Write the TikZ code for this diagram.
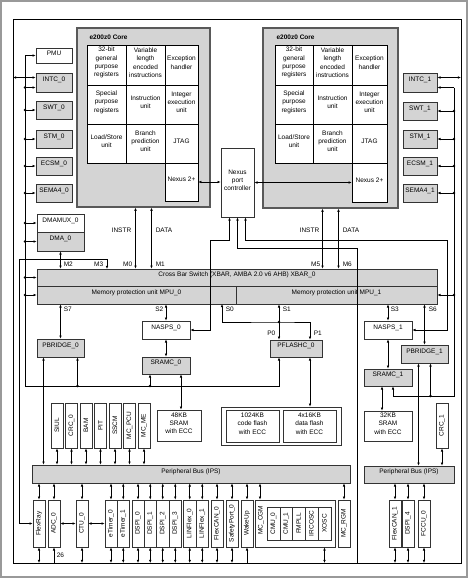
\documentclass[tikz,border=0pt]{standalone}
\usepackage{fontspec}
\setmainfont{Liberation Sans}
\usetikzlibrary{fit,arrows.meta}
\colorlet{fillc}{black!17}
\colorlet{edgec}{black!80}
\tikzstyle{soc} = [
  x=1pt, y=-1pt,
  line width=0.6pt,
  >={Latex[length=3.2pt,width=2.6pt]},
  font=\fontsize{6.5}{8.3}\selectfont,
]
\tikzstyle{wbox} = [draw=edgec, fill=white, inner sep=0pt, align=center]
\tikzstyle{gbox} = [wbox, fill=fillc]
\tikzset{vbox/.style={draw=edgec, fill=white, inner sep=0pt,
  label={[rotate=90, inner sep=0pt]center:#1}}}
\tikzstyle{core} = [draw=black!65, fill=fillc, line width=1.2pt, inner sep=0pt]
\tikzstyle{cell} = [draw=black, fill=white, inner sep=0pt, align=center, line width=0.5pt]
\tikzstyle{lbl} = [inner sep=0.5pt]

\begin{document}
\begin{tikzpicture}[soc]
  \useasboundingbox (0,0) rectangle (476,582);

  % Frame
  \draw[black!40, line width=1.2pt] (1,1) rectangle (467,577);
  \draw (13,19) rectangle (461,563);
  \coordinate (fl) at (13,0);
  \coordinate (fr) at (461,0);
  \coordinate (fb) at (0,563);
  \coordinate (busL) at (25,0);
  \coordinate (busLb) at (25,386);
  \coordinate (busR) at (454,0);
  \coordinate (busRb) at (454,396);

  % Core 0
  \node[core, fit={(77,28) (210,207)}] (core0) {};
  \node[anchor=west, font=\fontsize{6.5}{8}\selectfont\bfseries] (core0t) at (86,37) {e200z0 Core};
  \node[cell, fit={(87,45) (126,85)}] (gpr0) {32-bit\\general\\purpose\\registers};
  \node[cell, fit={(126,45) (165,85)}] (vle0) {Variable\\length\\encoded\\instructions};
  \node[cell, fit={(165,45) (198,85)}] (exc0) {Exception\\handler};
  \node[cell, fit={(87,85) (126,124)}] (spr0) {Special\\purpose\\registers};
  \node[cell, fit={(126,85) (165,124)}] (iu0) {Instruction\\unit};
  \node[cell, fit={(165,85) (198,124)}] (ieu0) {Integer\\execution\\unit};
  \node[cell, fit={(87,124) (126,163)}] (lsu0) {Load/Store\\unit};
  \node[cell, fit={(126,124) (165,163)}] (bpu0) {Branch\\prediction\\unit};
  \node[cell, fit={(165,124) (198,163)}] (jtag0) {JTAG};
  \node[cell, fit={(165,163) (198,201)}] (nx0) {Nexus 2+};

  % Core 1
  \node[core, fit={(263,28) (398,208)}] (core1) {};
  \node[anchor=west, font=\fontsize{6.5}{8}\selectfont\bfseries] (core1t) at (273,37) {e200z0 Core};
  \node[cell, fit={(275,45) (313,85)}] (gpr1) {32-bit\\general\\purpose\\registers};
  \node[cell, fit={(313,45) (352,85)}] (vle1) {Variable\\length\\encoded\\instructions};
  \node[cell, fit={(352,45) (387,85)}] (exc1) {Exception\\handler};
  \node[cell, fit={(275,85) (313,124)}] (spr1) {Special\\purpose\\registers};
  \node[cell, fit={(313,85) (352,124)}] (iu1) {Instruction\\unit};
  \node[cell, fit={(352,85) (387,124)}] (ieu1) {Integer\\execution\\unit};
  \node[cell, fit={(275,124) (313,163)}] (lsu1) {Load/Store\\unit};
  \node[cell, fit={(313,124) (352,163)}] (bpu1) {Branch\\prediction\\unit};
  \node[cell, fit={(352,124) (387,163)}] (jtag1) {JTAG};
  \node[cell, fit={(352,163) (387,202)}] (nx1) {Nexus 2+};

  \node[wbox, fit={(221,148) (254,217)}] (npc) {Nexus\\port\\controller};

  % Side modules
  \node[wbox, fit={(36,48) (72,63)}] (pmu) {PMU};
  \node[gbox, fit={(36,73) (72,92)}] (intc0) {INTC\_0};
  \node[gbox, fit={(36,101) (72,119)}] (swt0) {SWT\_0};
  \node[gbox, fit={(36,130) (72,148)}] (stm0) {STM\_0};
  \node[gbox, fit={(36,157) (72,175)}] (ecsm0) {ECSM\_0};
  \node[gbox, fit={(36,184) (72,202)}] (sema0) {SEMA4\_0};
  \node[wbox, fit={(37,214) (84,232)}] (dmamux0) {DMAMUX\_0};
  \node[gbox, fit={(37,232) (84,251)}] (dma0) {DMA\_0};
  \node[gbox, fit={(403,73) (437,92)}] (intc1) {INTC\_1};
  \node[gbox, fit={(403,102) (437,120)}] (swt1) {SWT\_1};
  \node[gbox, fit={(403,130) (437,148)}] (stm1) {STM\_1};
  \node[gbox, fit={(403,157) (437,175)}] (ecsm1) {ECSM\_1};
  \node[gbox, fit={(403,184) (437,202)}] (sema1) {SEMA4\_1};

  % Cross bar
  \node[gbox, fit={(37,269) (437,286)}] (xbar) {Cross Bar Switch (XBAR, AMBA 2.0 v6 AHB) XBAR\_0};
  \node[gbox, fit={(37,286) (236,304)}] (mpu0) {Memory protection unit MPU\_0};
  \node[gbox, fit={(236,286) (437,304)}] (mpu1) {Memory protection unit MPU\_1};

  % Slaves
  \node[gbox, fit={(37,339) (84,357)}] (pbr0) {PBRIDGE\_0};
  \node[wbox, fit={(142,321) (190,339)}] (nasps0) {NASPS\_0};
  \node[gbox, fit={(142,357) (190,374)}] (sramc0) {SRAMC\_0};
  \node[wbox, fit={(157,410) (201,441)}] (sram0) {48KB\\SRAM\\with ECC};
  \node[gbox, fit={(270,340) (322,357)}] (pfl0) {PFLASHC\_0};
  \node[wbox, fit={(221,407) (341,445)}] (flash) {};
  \node[wbox, fit={(226,410) (279,442)}] (cflash) {1024KB\\code flash\\with ECC};
  \node[wbox, fit={(283,410) (336,442)}] (dflash) {4x16KB\\data flash\\with ECC};
  \node[wbox, fit={(364,321) (412,339)}] (nasps1) {NASPS\_1};
  \node[gbox, fit={(364,369) (412,386)}] (sramc1) {SRAMC\_1};
  \node[gbox, fit={(401,345) (448,363)}] (pbr1) {PBRIDGE\_1};
  \node[wbox, fit={(364,411) (412,441)}] (sram1) {32KB\\SRAM\\with ECC};
  \node[vbox=CRC\_1, fit={(436,403) (448,448)}] (crc1) {};

  % Peripherals above the bus
  \node[vbox=SIUL, fit={(51,403) (63,448)}] (siul) {};
  \node[vbox=CRC\_0, fit={(65.5,403) (77.5,448)}] (crc0) {};
  \node[vbox=BAM, fit={(80,403) (92,448)}] (bam) {};
  \node[vbox=PIT, fit={(94.5,403) (106.5,448)}] (pit) {};
  \node[vbox=SSCM, fit={(109,403) (121,448)}] (sscm) {};
  \node[vbox=MC\_PCU, fit={(123.5,403) (135.5,448)}] (mcpcu) {};
  \node[vbox=MC\_ME, fit={(138,403) (150,448)}] (mcme) {};

  % Peripheral buses
  \node[gbox, fit={(32,465) (350,483)}] (ips0) {Peripheral Bus (IPS)};
  \node[gbox, fit={(364,466) (454,483)}] (ips1) {Peripheral Bus (IPS)};

  % Peripherals below the bus
  \node[vbox=FlexRay, fit={(33,500) (45,547)}] (flexray) {};
  \node[vbox=ADC\_0, fit={(48,500) (60,547)}] (adc0) {};
  \node[vbox=CTU\_0, fit={(76,500) (88,547)}] (ctu0) {};
  \node[vbox=eTimer\_0, fit={(105,500) (117,547)}] (etimer0) {};
  \node[vbox=eTimer\_1, fit={(117,500) (129.5,547)}] (etimer1) {};
  \node[vbox=DSPI\_0, fit={(132,500) (144,547)}] (dspi0) {};
  \node[vbox=DSPI\_1, fit={(144,500) (156.5,547)}] (dspi1) {};
  \node[vbox=DSPI\_2, fit={(156.5,500) (169,547)}] (dspi2) {};
  \node[vbox=DSPI\_3, fit={(169,500) (181.5,547)}] (dspi3) {};
  \node[vbox=LINFlex\_0, fit={(183.5,500) (196,547)}] (linflex0) {};
  \node[vbox=LINFlex\_1, fit={(196,500) (208.5,547)}] (linflex1) {};
  \node[vbox=FlexCAN\_0, fit={(211,500) (223,547)}] (flexcan0) {};
  \node[vbox=SafetyPort\_0, fit={(226,500) (238,547)}] (safety0) {};
  \node[vbox=WakeUp, fit={(241,500) (253,547)}] (wakeup) {};
  \node[wbox, fit={(255,500) (335,547)}] (mccgm) {};
  \node[rotate=90, anchor=east] (mccgmt) at (261,502) {MC\_CGM};
  \node[vbox=CMU\_0, fit={(267,507) (280,540)}] (cmu0) {};
  \node[vbox=CMU\_1, fit={(280,507) (292.5,540)}] (cmu1) {};
  \node[vbox=FMPLL, fit={(292.5,507) (305,540)}] (fmpll) {};
  \node[vbox=IRCOSC, fit={(305,507) (318,540)}] (ircosc) {};
  \node[vbox=XOSC, fit={(318,507) (331,540)}] (xosc) {};
  \node[vbox=MC\_RGM, fit={(338,500) (350,547)}] (mcrgm) {};
  \node[vbox=FlexCAN\_1, fit={(389,500) (401,547)}] (flexcan1) {};
  \node[vbox=DSPI\_4, fit={(402,500) (414,547)}] (dspi4) {};
  \node[vbox=FCCU\_0, fit={(418,500) (430,547)}] (fccu0) {};

  % Left bus
  \draw[->] (pmu.west -| busL) -- (busLb) -| ([xshift=-17pt]pfl0.south);
  \draw[->] (pmu.west -| busL) -- (pmu.west);
  \draw[->] ([yshift=-5pt]intc0.west -| busL) -- ([yshift=-5pt]intc0.west);
  \fill ([yshift=-5pt]intc0.west -| busL) circle (1.3pt);
  \draw[<->] ([yshift=5pt]intc0.west -| fl) -- ([yshift=5pt]intc0.west);
  \foreach \m in {swt0,stm0,ecsm0,sema0,dmamux0,dma0,xbar,mpu0} {
    \draw[->] (\m.west -| busL) -- (\m.west);
    \fill (\m.west -| busL) circle (1.3pt);
  }
  \draw[->] ([xshift=17pt]pbr0.south |- busLb) -- ([xshift=17pt]pbr0.south);
  \fill ([xshift=17pt]pbr0.south |- busLb) circle (1.3pt);
  \draw[->] ([xshift=-16pt]sramc0.south |- busLb) -- ([xshift=-16pt]sramc0.south);
  \fill ([xshift=-16pt]sramc0.south |- busLb) circle (1.3pt);

  % Right bus
  \draw[->] ([yshift=-5pt]intc1.east -| busR) -- (busRb) -| ([xshift=5pt]sramc1.south);
  \draw[->] ([yshift=-5pt]intc1.east -| busR) -- ([yshift=-5pt]intc1.east);
  \draw[<->] ([yshift=5pt]intc1.east -| fr) -- ([yshift=5pt]intc1.east);
  \foreach \m in {swt1,stm1,ecsm1,sema1,mpu1} {
    \draw[->] (\m.east -| busR) -- (\m.east);
    \fill (\m.east -| busR) circle (1.3pt);
  }
  \draw[->] ([xshift=6pt]pbr1.south |- busRb) -- ([xshift=6pt]pbr1.south);
  \fill ([xshift=6pt]pbr1.south |- busRb) circle (1.3pt);

  % Masters
  \draw[<->] ([xshift=-8pt]core0.south) -- ([xshift=-8pt]core0.south |- xbar.north);
  \draw[<->] ([xshift=8pt]core0.south) -- ([xshift=8pt]core0.south |- xbar.north);
  \draw[<->] ([xshift=-8pt]core1.south) -- ([xshift=-8pt]core1.south |- xbar.north);
  \draw[<->] ([xshift=8pt]core1.south) -- ([xshift=8pt]core1.south |- xbar.north);
  \draw[<->] (dma0.south) -- (dma0.south |- xbar.north);
  \draw[<->] (flexray.west) -| (19,259) -| (107,269);

  % Slaves
  \draw[<->] (pbr0.north) -- (pbr0.north |- mpu0.south);
  \draw[<->] ([xshift=-17pt]pbr0.south) -- ([xshift=-17pt]pbr0.south |- ips0.north);
  \draw[<->] (nasps0.north) -- (nasps0.north |- mpu0.south);
  \draw[<->] (nasps0.south) -- (sramc0.north);
  \draw[<->] ([xshift=15pt]sramc0.south) -- ([xshift=15pt]sramc0.south |- sram0.north);
  \coordinate (jS) at (279,322);
  \draw[<->] (222,304) |- (jS) -| ([xshift=14pt]pfl0.north);
  \draw[<->] (jS |- mpu1.south) -- (jS |- pfl0.north);
  \fill (jS) circle (1.3pt);
  \draw[<->] ([xshift=14pt]pfl0.south) -- ([xshift=14pt]pfl0.south |- flash.north);
  \draw[<->] (nasps1.north) -- (nasps1.north |- mpu1.south);
  \draw[<->] (nasps1.south) -- (sramc1.north);
  \draw[<->] ([xshift=-6pt]sramc1.south) -- ([xshift=-6pt]sram1.north);
  \draw[<->] (pbr1.north) -- (pbr1.north |- mpu1.south);
  \draw[<->] ([xshift=-6pt]pbr1.south) -- ([xshift=-6pt]pbr1.south |- ips1.north);
  \draw[<->] (crc1.south) -- (crc1.south |- ips1.north);

  % Nexus
  \draw[<->] (nx0.east) -- (nx0.east -| npc.west);
  \draw[<->] (nx1.west -| npc.east) -- (nx1.west);
  \draw[<->] (nasps0.east) -| (210,240) -| ([xshift=-8pt]npc.south);
  \coordinate (jV) at (357,248);
  \draw[->] (jV |- fb) -- (jV) -| (npc.south);
  \draw[<->] (nasps1.east) -| (447,240) -| ([xshift=8pt]npc.south);

  % Peripheral links
  \foreach \m in {siul,crc0,bam,pit,sscm,mcpcu,mcme}
    \draw[<->] (\m.south) -- (\m.south |- ips0.north);
  \foreach \m in {flexray,adc0,ctu0,etimer0,etimer1,dspi0,dspi1,dspi2,dspi3,linflex0,linflex1,flexcan0,safety0,wakeup,mcrgm}
    \draw[<->] (\m.north) -- (\m.north |- ips0.south);
  \draw[<->] ([xshift=-35pt]mccgm.north) -- ([xshift=-35pt]mccgm.north |- ips0.south);
  \foreach \m in {flexray,ctu0,etimer0,etimer1,dspi0,dspi1,dspi2,dspi3,linflex0,linflex1,flexcan0,safety0}
    \draw[<->] (\m.south) -- (\m.south |- fb);
  \draw[<-] (adc0.south) -- (adc0.south |- fb);
  \draw[<-] (wakeup.south) -- (wakeup.south |- fb);
  \draw[<->] (mccgm.south -| xosc.south) -- (xosc.south |- fb);
  \draw[<->] (adc0.east) -- (ctu0.west);
  \draw[<->] (ctu0.east) -- (etimer0.west);
  \foreach \m in {flexcan1,dspi4,fccu0} {
    \draw[<->] (\m.north) -- (\m.north |- ips1.south);
    \draw[<->] (\m.south) -- (\m.south |- fb);
  }

  % Labels
  \node[lbl, anchor=east] (li0) at (132,230) {INSTR};
  \node[lbl, anchor=west] (ld0) at (155,230) {DATA};
  \node[lbl, anchor=east] (li1) at (320,230) {INSTR};
  \node[lbl, anchor=west] (ld1) at (342,230) {DATA};
  \node[lbl, anchor=east] (lm0) at (133,264) {M0};
  \node[lbl, anchor=west] (lm1) at (155,264) {M1};
  \node[lbl, anchor=west] (lm2) at (63,264) {M2};
  \node[lbl, anchor=east] (lm3) at (104,264) {M3};
  \node[lbl, anchor=east] (lm5) at (321,264) {M5};
  \node[lbl, anchor=west] (lm6) at (342,264) {M6};
  \node[lbl, anchor=west] (ls7) at (63,309) {S7};
  \node[lbl, anchor=east] (ls2) at (164,309) {S2};
  \node[lbl, anchor=west] (ls0) at (225,309) {S0};
  \node[lbl, anchor=west] (ls1) at (282,309) {S1};
  \node[lbl, anchor=east] (lp0) at (276,333) {P0};
  \node[lbl, anchor=west] (lp1) at (313,333) {P1};
  \node[lbl, anchor=west] (ls3) at (390,309) {S3};
  \node[lbl, anchor=west] (ls6) at (428,309) {S6};
  \node[lbl, anchor=west] (l26) at (56,555) {26};
\end{tikzpicture}
\end{document}
